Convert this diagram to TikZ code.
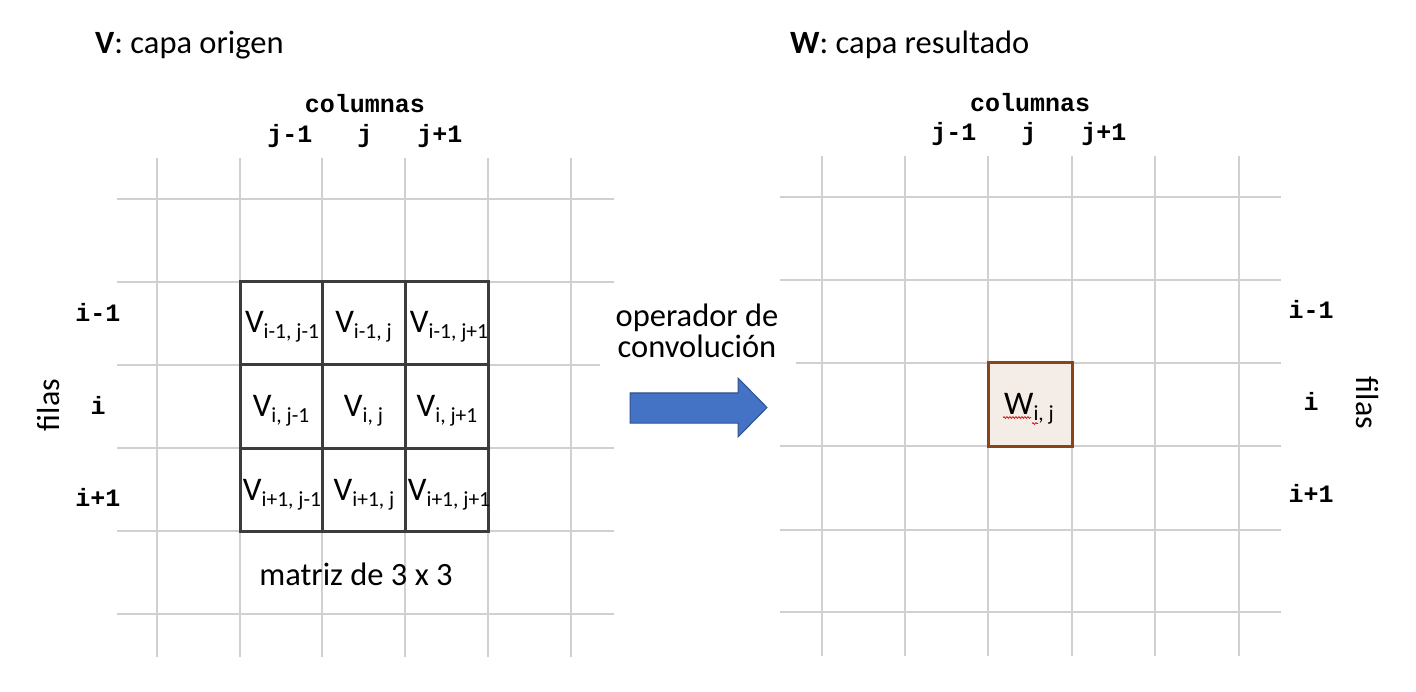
\documentclass[tikz,border=0pt]{standalone}
\usepackage{fontspec}
\setmainfont{Carlito}
\newfontfamily\cour{Liberation Mono}
\usetikzlibrary{decorations.pathmorphing}
\definecolor{gridgray}{HTML}{D0D0D0}
\definecolor{boxgray}{HTML}{3C3C3C}
\definecolor{wfill}{HTML}{F4ECE7}
\definecolor{wdraw}{HTML}{8A4419}
\definecolor{arrfill}{HTML}{4472C4}
\definecolor{arrdraw}{HTML}{2F528F}
\newcommand\sbs[1]{\raisebox{-6pt}{\fontsize{21.5}{21.5}\selectfont #1}}
\tikzset{
  gridline/.style={draw=gridgray, line width=1.5pt},
  boldline/.style={draw=boxgray, line width=3pt},
  heading/.style={anchor=base west, inner sep=0pt, font=\fontsize{32.5}{38}\selectfont},
  mono/.style={anchor=base, inner sep=0pt, font=\cour\bfseries\fontsize{25}{30}\selectfont},
  cell/.style={anchor=base, inner sep=0pt, font=\fontsize{33}{38}\selectfont},
  label/.style={inner sep=0pt, font=\fontsize{32}{38}\selectfont},
  squig/.style={draw=red!85!black, line width=0.7pt, decorate, decoration={snake, amplitude=0.9pt, segment length=3pt}},
}
\begin{document}
\begin{tikzpicture}[x=1pt, y=-1pt]
\fill[white] (0,0) rectangle (1416,692);
\useasboundingbox (0,0) rectangle (1416,692);

% ---------- left grid ----------
\foreach \x in {157,240,322,405,488,571} \draw[gridline] (\x,158) -- (\x,657);
\foreach \y in {199,282,448,531,614} \draw[gridline] (117,\y) -- (614,\y);
\draw[gridline] (117,365) -- (600,365);
% bold 3x3
\draw[boldline] (240,282) rectangle (488,531);
\draw[boldline] (322,282) -- (322,531);
\draw[boldline] (405,282) -- (405,531);
\draw[boldline] (240,365) -- (488,365);
\draw[boldline] (240,448) -- (488,448);

% ---------- right grid ----------
\foreach \x in {822,905,988,1072,1155,1239} \draw[gridline] (\x,156) -- (\x,656);
\foreach \y in {197,280,446,530,612} \draw[gridline] (780,\y) -- (1281,\y);
\draw[gridline] (796,363) -- (1281,363);
\draw[draw=wdraw, fill=wfill, line width=3pt] (988,363) rectangle (1072,446);

% ---------- headings ----------
\node[heading] (hv) at (95,54) {\textbf{V}: capa origen};
\node[heading] (hw) at (790,54) {\textbf{W}: capa resultado};

% ---------- column labels ----------
\node[mono] (colL) at (365,113) {columnas};
\node[mono] (jL) at (365,143) {j-1\ \ \ j\ \ \ j+1};
\node[mono] (colR) at (1030,112) {columnas};
\node[mono] (jR) at (1029,141) {j-1\ \ \ j\ \ \ j+1};

% ---------- row labels ----------
\node[mono] (r1L) at (98,322) {i-1};
\node[mono] (r2L) at (98,414) {i};
\node[mono] (r3L) at (98,506) {i+1};
\node[mono] (r1R) at (1311,319) {i-1};
\node[mono] (r2R) at (1311,410) {i};
\node[mono] (r3R) at (1311,502) {i+1};
\node[label, rotate=90] (filasL) at (49,405) {filas};
\node[label, rotate=-90] (filasR) at (1367,403) {filas};

% ---------- cells ----------
\node[cell] (c11) at (282,333) {V\sbs{i-1, j-1}};
\node[cell] (c12) at (363.5,333) {V\sbs{i-1, j}};
\node[cell] (c13) at (449,333) {V\sbs{i-1, j+1}};
\node[cell] (c21) at (281,416) {V\sbs{i, j-1}};
\node[cell] (c22) at (363.5,416) {V\sbs{i, j}};
\node[cell] (c23) at (447,416) {V\sbs{i, j+1}};
\node[cell] (c31) at (282,500) {V\sbs{i+1, j-1}};
\node[cell] (c32) at (364,500) {V\sbs{i+1, j}};
\node[cell] (c33) at (449,500) {V\sbs{i+1, j+1}};
\node[cell, font=\fontsize{32.5}{38}\selectfont] (mat) at (356,585) {matriz de 3 x 3};

\node[cell] (w) at (1029,414) {W\sbs{i, j}};
\draw[squig] (1003,417.5) -- (1031,417.5);
\draw[squig] (1032,423.5) -- (1038,423.5);

% ---------- operator ----------
\node[inner sep=0pt, anchor=south, align=center, font=\fontsize{32.5}{31}\selectfont] (op) at (697,358) {operador de\\convolución};
\draw[fill=arrfill, draw=arrdraw, line width=1pt]
  (630,393) -- (738,393) -- (738,378) -- (767,407.5) -- (738,437) -- (738,423) -- (630,423) -- cycle;
\end{tikzpicture}
\end{document}
